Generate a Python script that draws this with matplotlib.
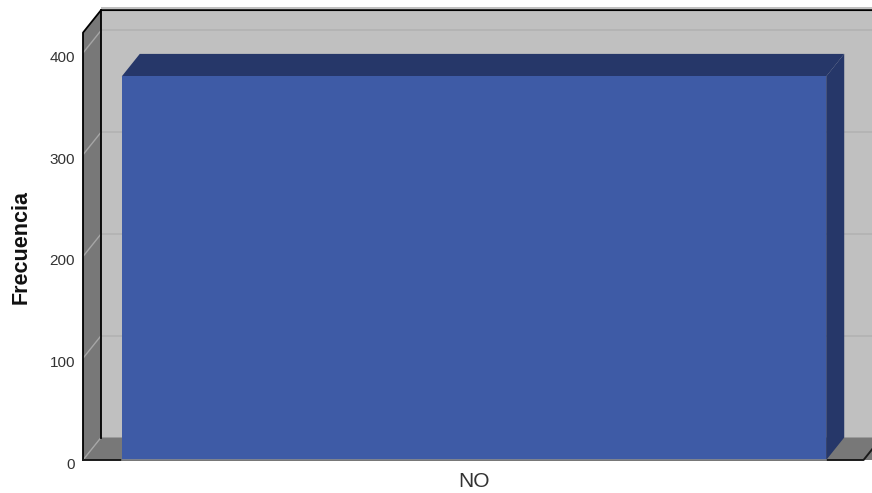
import matplotlib
matplotlib.use('Agg')
import matplotlib.pyplot as plt
from matplotlib.patches import Polygon
from matplotlib.transforms import ScaledTranslation

plt.rcParams['font.family'] = ['Liberation Sans', 'DejaVu Sans']

categories = ['NO']
frecuencias = [377]
y_ticks = [0, 100, 200, 300, 400]

W, H = 872, 493
# depth of the fake 3D box, in data units
DX = 18 / 704
DY = 22.5 / 1.0175
BAR_W = 1.0
X0, X1 = -0.555, 0.565
Y_TOP = 445

WALL = '#C0C0C0'
SIDE = '#787878'
BAR = '#3E5BA6'
BAR_DARK = '#263769'

fig = plt.figure(figsize=(W / 100, H / 100), dpi=100)
ax = fig.add_axes([83 / W, (H - 460) / H, (872 - 83) / W, (Y_TOP * 1.0175) / H])
ax.set_xlim(X0, X1)
ax.set_ylim(0, Y_TOP)


def poly(pts, color, z, edge='none', lw=0.0):
    ax.add_patch(Polygon(pts, closed=True, facecolor=color, edgecolor=edge, linewidth=lw, zorder=z, clip_on=False))


# back wall, floor, left wall
poly([(X0 + DX, DY), (X1 + 1, DY), (X1 + 1, Y_TOP), (X0 + DX, Y_TOP)], WALL, 1)
top = 420.0
poly([(X0, 0), (X0 + DX, DY), (X0 + DX, top + DY), (X0, top)], SIDE, 2)
poly([(X0, 0), (0.553, 0), (0.553 + DX, DY), (X1, DY), (X1, 0)], SIDE, 2)
poly([(X0, 0), (0.553, 0), (0.553 + DX, DY), (X0 + DX, DY)], SIDE, 2)

# gridlines on the back and side walls
for t in y_ticks:
    if t > 0:
        ax.plot([X0 + DX, X1], [t + DY, t + DY], color='#B2B2B2', lw=1.2, zorder=1.5)
    ax.plot([X0, X0 + DX], [t, t + DY], color='#A6A6A6', lw=1.0, zorder=2.5)

# box outlines
ax.plot([X0, X0, X0 + DX, X1], [0, top, top + DY, top + DY], color='black', lw=1.3, zorder=3, clip_on=False)
ax.plot([X0 + DX, X0 + DX], [DY, top + DY], color='black', lw=1.3, zorder=3)
ax.plot([X0, 0.553, 0.553 + DX], [0, 0, DY], color='#1A1A1A', lw=1.4, zorder=3, clip_on=False)

# bar with its 3D faces
for i, v in enumerate(frecuencias):
    l = i - BAR_W / 2
    r = i + BAR_W / 2
    ax.bar(i, v, width=BAR_W, color=BAR, zorder=5)
    poly([(l, v), (r, v), (r + DX, v + DY), (l + DX, v + DY)], BAR_DARK, 4)
    poly([(r, 0), (r + DX, DY), (r + DX, v + DY), (r, v)], BAR_DARK, 4)
    ax.plot([l, r], [0, 0], color='#8A8A8A', lw=1.2, zorder=6, clip_on=False)

for s in ax.spines.values():
    s.set_visible(False)
ax.set_xticks(range(len(categories)))
ax.set_xticklabels(categories, fontsize=15, color='#333333')
ax.set_yticks(y_ticks)
ax.set_yticklabels(y_ticks, fontsize=11, color='#333333')
ax.tick_params(axis='both', length=0)
ax.tick_params(axis='y', pad=5.8)
ax.tick_params(axis='x', pad=8.5)
# the labels sit a little under their gridline
nudge = ScaledTranslation(0, -2.5 / 72, fig.dpi_scale_trans)
for lab in ax.get_yticklabels():
    lab.set_transform(lab.get_transform() + nudge)
ax.set_ylabel('Frecuencia', fontsize=15.5, fontweight='bold', color='#111111')
ax.yaxis.set_label_coords(-(83 - 32) / (872 - 83), (460 - 247) / (Y_TOP * 1.0175))

fig.savefig('out.png', dpi=100)
